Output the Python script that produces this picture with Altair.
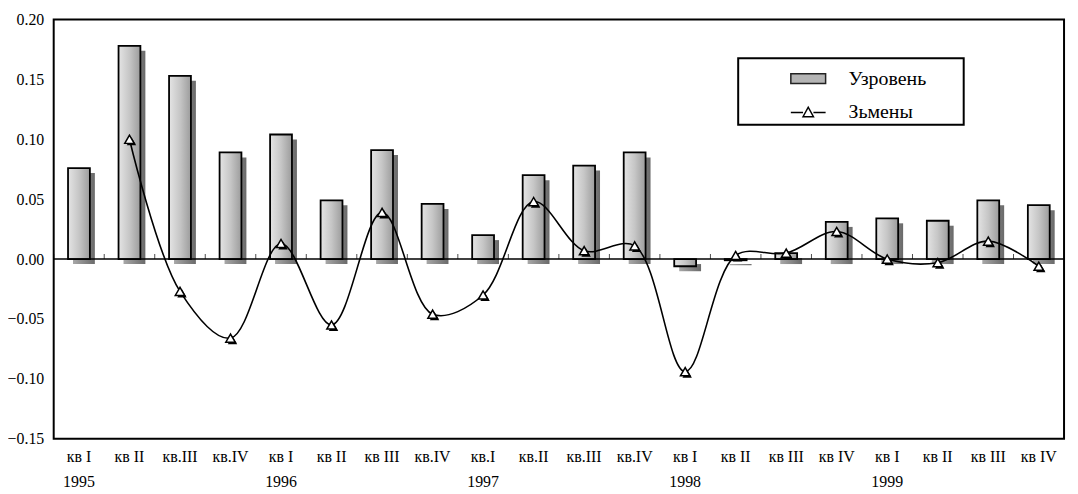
import altair as alt
import pandas as pd

years = [1995] * 4 + [1996] * 4 + [1997] * 4 + [1998] * 4 + [1999] * 4
quarters = ["кв I", "кв II", "кв.III", "кв.IV",
            "кв I", "кв II", "кв III", "кв.IV",
            "кв.I", "кв.II", "кв.III", "кв.IV",
            "кв I", "кв II", "кв III", "кв IV",
            "кв I", "кв II", "кв III", "кв IV"]
level = [0.076, 0.178, 0.153, 0.089, 0.104, 0.049, 0.091, 0.046, 0.020, 0.070,
         0.078, 0.089, -0.006, -0.001, 0.005, 0.031, 0.034, 0.032, 0.049, 0.045]
change = [None, 0.100, -0.027, -0.066, 0.013, -0.055, 0.039, -0.046, -0.030, 0.048,
          0.007, 0.011, -0.094, 0.003, 0.005, 0.023, 0.000, -0.003, 0.015, -0.006]
series = ["Узровень", "Зьмены"]
y_ticks = [-0.15, -0.10, -0.05, 0.0, 0.05, 0.10, 0.15, 0.20]

keys = [f"{y}|{q}|{i}" for i, (y, q) in enumerate(zip(years, quarters))]
df = pd.DataFrame({"key": keys, "year": years, "quarter": quarters,
                   "level": level, "change": change})
year_df = df[df.index % 4 == 0].copy()
year_df["year_label"] = year_df["year"].astype(str)

FONT = "Liberation Serif"
W, H = 1017, 422
step = W / len(keys)

x_enc = alt.X("key:N", sort=keys, title=None,
              scale=alt.Scale(paddingInner=0, paddingOuter=0),
              axis=alt.Axis(labelExpr="split(datum.value, '|')[1]", labelAngle=0,
                            ticks=False, domain=False, grid=False, labelPadding=10,
                            labelFont=FONT, labelFontSize=16, labelColor="black"))
y_scale = alt.Scale(domain=[-0.15, 0.20], nice=False, zero=False)
y_axis = alt.Axis(values=y_ticks, format=".2f", ticks=False, domain=False, grid=False,
                  labelPadding=10, labelFont=FONT, labelFontSize=16, labelColor="black")

base = alt.Chart(df)

bar_grad = alt.Gradient(gradient="linear", x1=0, x2=1, y1=0, y2=0,
                        stops=[alt.GradientStop(color="#e4e4e4", offset=0),
                               alt.GradientStop(color="#c6c6c6", offset=0.5),
                               alt.GradientStop(color="#9c9c9c", offset=1)])
shadow_grad = alt.Gradient(gradient="linear", x1=0, x2=1, y1=0, y2=0,
                           stops=[alt.GradientStop(color="#a8a8a8", offset=0),
                                  alt.GradientStop(color="#6a6a6a", offset=1)])

shadow = base.mark_bar(size=22, color=shadow_grad, xOffset=5, yOffset=5).encode(
    x=x_enc, y=alt.Y("level:Q", scale=y_scale, axis=y_axis, title=None))
bars = base.mark_bar(size=22, color=bar_grad, stroke="black", strokeWidth=1.8).encode(
    x=x_enc, y=alt.Y("level:Q", scale=y_scale, axis=y_axis, title=None))

zero = alt.Chart(pd.DataFrame({"zero": [0.0]})).mark_rule(color="black", strokeWidth=1.6).encode(
    y=alt.Y("zero:Q", scale=y_scale, axis=y_axis, title=None))
ticks = base.mark_tick(orient="vertical", color="black", thickness=1, size=5,
                       xOffset=-step / 2, yOffset=-2.5).encode(
    x=x_enc, y=alt.datum(0.0, scale=y_scale))

line = base.mark_line(interpolate="catmull-rom", color="black", strokeWidth=1.6).encode(
    x=x_enc, y=alt.Y("change:Q", scale=y_scale, axis=y_axis, title=None))
pt_shadow = base.mark_point(shape="triangle-up", filled=True, color="black", size=90,
                            xOffset=2, yOffset=2, opacity=1).encode(
    x=x_enc, y=alt.Y("change:Q", scale=y_scale, axis=y_axis, title=None))
pts = base.mark_point(shape="triangle-up", filled=True, fill="white", stroke="black",
                      strokeWidth=1.5, size=90, opacity=1).encode(
    x=x_enc, y=alt.Y("change:Q", scale=y_scale, axis=y_axis, title=None))

year_text = alt.Chart(year_df).mark_text(font=FONT, fontSize=16, baseline="middle",
                                         color="black").encode(
    x=x_enc, y=alt.value(H + 44), text="year_label:N")

rect_path = "M-1,-0.28H1V0.28H-1Z"
tri_path = "M-1,0H-0.3M0.3,0H1M-0.3,0.25L0,-0.3L0.3,0.25Z"
pad_chars = "\u00a0" * 7 + "\u200b"
leg = alt.Legend(title=None, orient="none", legendX=689, legendY=39, padding=2,
                 symbolSize=1225, symbolStrokeWidth=1.5, symbolOffset=50, labelOffset=22,
                 labelFont=FONT, labelFontSize=20, labelColor="black", labelLimit=300,
                 strokeColor="black", fillColor="white", symbolOpacity=1, rowPadding=5,
                 labelExpr=f"datum.label + '{pad_chars}'")
legend_layer = alt.Chart(pd.DataFrame({"series": series})).mark_point(
    opacity=0, filled=True).encode(
    shape=alt.Shape("series:N", scale=alt.Scale(domain=series, range=[rect_path, tri_path]), legend=leg),
    fill=alt.Fill("series:N", scale=alt.Scale(domain=series, range=["#b4b4b4", "white"]), legend=leg),
    stroke=alt.Stroke("series:N", scale=alt.Scale(domain=series, range=["#222222", "black"]), legend=leg),
)

chart = alt.layer(shadow, bars, zero, ticks, line, pt_shadow, pts, year_text, legend_layer).properties(
    width=W, height=H,
    autosize=alt.AutoSizeParams(type="none"),
    padding={"left": 46, "top": 10, "right": 6, "bottom": 50},
).configure_view(stroke="black", strokeWidth=2).configure_legend(strokeWidth=2)

chart.save("out.html", embed_options={"renderer": "svg", "actions": False})
